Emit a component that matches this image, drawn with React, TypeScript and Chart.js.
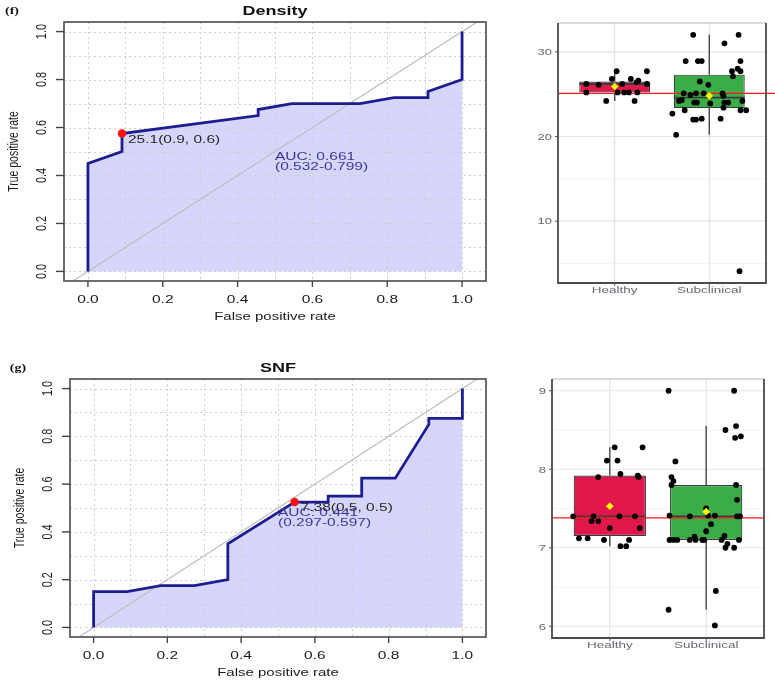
import React, { useEffect, useRef } from 'react';
import { Chart, registerables } from 'chart.js';

Chart.register(...registerables);

const SANS = 'Arial, "Liberation Sans", Helvetica, sans-serif';
const SERIF = '"Liberation Serif", "Times New Roman", serif';
const SQUASH = 0.7;

// ---------- ROC (f) Density ----------
const densityFpr = [0, 0, 0.091, 0.091, 0.455, 0.455, 0.545, 0.727, 0.818, 0.909, 0.909, 1, 1];
const densityTpr = [0, 0.45, 0.5, 0.575, 0.65, 0.675, 0.7, 0.7, 0.725, 0.725, 0.75, 0.8, 1];
const densityBestPoint = [0.091, 0.575];
const densityBestLabel = '25.1(0.9, 0.6)';
const densityAucLines = ['AUC: 0.661', '(0.532-0.799)'];

// ---------- ROC (g) SNF ----------
const snfFpr = [0, 0, 0.091, 0.182, 0.273, 0.364, 0.364, 0.545, 0.636, 0.636, 0.727, 0.727, 0.818, 0.909, 0.909, 1, 1];
const snfTpr = [0, 0.15, 0.15, 0.175, 0.175, 0.2, 0.35, 0.525, 0.525, 0.55, 0.55, 0.625, 0.625, 0.85, 0.875, 0.875, 1];
const snfBestPoint = [0.545, 0.525];
const snfBestLabel = '7.38(0.5, 0.5)';
const snfAucLines = ['AUC: 0.441', '(0.297-0.597)'];

const rocTickValues = [0, 0.2, 0.4, 0.6, 0.8, 1];
const rocTickLabels = ['0.0', '0.2', '0.4', '0.6', '0.8', '1.0'];
const rocGridValues = [0, 0.1, 0.2, 0.3, 0.4, 0.5, 0.6, 0.7, 0.8, 0.9, 1];
const rocXLimits = [-0.064, 1.064];
const rocYLimits = [-0.04, 1.04];
const aucAnchorX = 0.5;
const aucAnchorY = [0.482, 0.44];

// ---------- Box plots ----------
const groups = ['Healthy', 'Subclinical'];
const boxColors = ['#e0174b', '#3aad49'];

const densityQ1 = [25.2, 23.35];
const densityMedian = [26.2, 24.6];
const densityQ3 = [26.5, 27.3];
const densityLow = [24.2, 20.2];
const densityHigh = [27.7, 32.0];
const densityMean = [25.9, 24.8];
const densityCutoff = 25.1;
const densityMajor = [10, 20, 30];
const densityMinor = [5, 15, 25];
const densityYLimits = [2.7, 33.4];
const densityHealthyValues = [26.2, 25.2, 26.1, 24.2, 26.8, 27.7, 25.2, 26.2, 25.2, 25.2, 26.8, 24.2, 25.2, 26.4, 26.6, 27.7, 26.2];
const densityHealthyJitter = [-0.3, -0.3, -0.17, -0.09, -0.03, 0.02, 0.03, 0.08, 0.1, 0.15, 0.17, 0.21, 0.24, 0.23, 0.25, 0.34, 0.34];
const densitySubValues = [32.0, 32.0, 31.0, 28.9, 28.9, 28.9, 28.9, 28.0, 27.7, 27.7, 27.1, 26.5, 26.1, 25.1, 24.9, 25.1, 25.1, 25.1, 24.8, 24.2, 24.3, 24.0, 24.0, 23.9, 24.0, 24.0, 24.2, 23.4, 23.1, 23.1, 23.1, 22.7, 22.0, 22.0, 22.1, 22.1, 20.2, 4.1];
const densitySubJitter = [-0.17, 0.31, 0.16, -0.25, -0.12, -0.08, 0.33, 0.3, 0.33, 0.24, 0.25, -0.1, -0.01, -0.27, -0.2, -0.14, -0.06, 0.14, 0.15, -0.32, -0.29, -0.16, -0.13, 0.01, 0.16, 0.2, 0.35, 0.15, -0.26, 0.33, 0.39, -0.39, -0.17, -0.14, -0.08, 0.12, -0.35, 0.32];

const snfQ1 = [7.15, 7.1];
const snfMedian = [7.4, 7.4];
const snfQ3 = [7.92, 7.8];
const snfLow = [7.02, 6.21];
const snfHigh = [8.28, 8.55];
const snfMean = [7.53, 7.46];
const snfCutoff = 7.38;
const snfMajor = [6, 7, 8, 9];
const snfMinor = [6.5, 7.5, 8.5];
const snfYLimits = [5.85, 9.15];
const snfHealthyValues = [7.4, 7.12, 7.12, 7.34, 7.4, 7.9, 7.34, 7.1, 8.11, 7.25, 8.28, 8.11, 7.94, 7.4, 7.02, 7.02, 7.1, 7.4, 7.92, 7.9, 7.25, 8.28];
const snfHealthyJitter = [-0.38, -0.32, -0.23, -0.19, -0.17, -0.12, -0.12, -0.06, -0.03, 0.0, 0.05, 0.08, 0.11, 0.1, 0.11, 0.17, 0.2, 0.26, 0.29, 0.3, 0.31, 0.34];
const snfSubValues = [9.0, 9.0, 8.55, 8.5, 8.4, 8.42, 8.1, 7.9, 7.85, 7.8, 7.8, 7.61, 7.41, 7.4, 7.5, 7.41, 7.41, 7.4, 7.4, 7.3, 7.21, 7.14, 7.15, 7.1, 7.1, 7.1, 7.1, 7.1, 7.1, 7.1, 7.1, 7.1, 7.05, 7.0, 7.0, 6.45, 6.21, 6.01];
const snfSubJitter = [-0.39, 0.29, 0.31, 0.2, 0.3, 0.36, -0.32, -0.36, -0.34, -0.36, 0.31, 0.32, -0.38, -0.17, 0.0, 0.02, 0.09, 0.35, 0.32, 0.05, 0.0, -0.12, 0.19, -0.38, -0.34, -0.3, -0.17, -0.11, -0.04, -0.02, 0.16, 0.34, 0.22, 0.2, 0.29, 0.1, -0.39, 0.09];

const boxXLimits = [0.4, 2.6];

// ---------- helpers ----------
function drawText(ctx: CanvasRenderingContext2D, text: string, x: number, y: number, size: number, color: string, opts: { align?: CanvasTextAlign; vertical?: boolean; bold?: boolean; family?: string } = {}) {
  ctx.save();
  ctx.translate(x, y);
  if (opts.vertical) {
    ctx.rotate(-Math.PI / 2);
    ctx.scale(SQUASH, 1);
  } else {
    ctx.scale(1, SQUASH);
  }
  ctx.font = `${opts.bold ? 'bold ' : ''}${size}px ${opts.family || SANS}`;
  ctx.fillStyle = color;
  ctx.textAlign = opts.align || 'center';
  ctx.textBaseline = 'alphabetic';
  ctx.fillText(text, 0, 0.36 * size);
  ctx.restore();
}

function line(ctx: CanvasRenderingContext2D, x1: number, y1: number, x2: number, y2: number) {
  ctx.beginPath();
  ctx.moveTo(x1, y1);
  ctx.lineTo(x2, y2);
  ctx.stroke();
}

function rocDecor(title: string, tag: string, best: number[], bestLabel: string, aucLines: string[]) {
  return {
    id: 'rocDecor',
    beforeDatasetsDraw(chart: any) {
      const { ctx, chartArea: a, scales } = chart;
      const x = scales.x, y = scales.y;
      ctx.save();
      ctx.strokeStyle = '#cfcfcf';
      ctx.lineWidth = 1;
      ctx.setLineDash([2, 3]);
      for (const v of rocGridValues) {
        const px = Math.round(x.getPixelForValue(v)) + 0.5;
        line(ctx, px, a.top, px, a.bottom);
        const py = Math.round(y.getPixelForValue(v)) + 0.5;
        line(ctx, a.left, py, a.right, py);
      }
      ctx.restore();
    },
    afterDatasetsDraw(chart: any) {
      const { ctx, chartArea: a, scales } = chart;
      const x = scales.x, y = scales.y;
      ctx.save();
      ctx.strokeStyle = '#555';
      ctx.lineWidth = 1.7;
      ctx.strokeRect(a.left, a.top, a.right - a.left, a.bottom - a.top);
      ctx.strokeStyle = '#444';
      ctx.lineWidth = 1.4;
      rocTickValues.forEach((v, i) => {
        const px = x.getPixelForValue(v);
        line(ctx, px, a.bottom, px, a.bottom + 6);
        drawText(ctx, rocTickLabels[i], px, a.bottom + 18, 15.5, '#1a1a1a');
        const py = y.getPixelForValue(v);
        line(ctx, a.left, py, a.left - 8, py);
        drawText(ctx, rocTickLabels[i], a.left - 24, py, 15.5, '#1a1a1a', { vertical: true });
      });
      const cx = (a.left + a.right) / 2;
      const cy = (a.top + a.bottom) / 2;
      drawText(ctx, 'False positive rate', cx, a.bottom + 35, 15, '#1a1a1a');
      drawText(ctx, 'True positive rate', a.left - 51, cy, 15, '#1a1a1a', { vertical: true });
      drawText(ctx, title, cx, a.top - 11.5, 18, '#111', { bold: true });
      drawText(ctx, tag, a.left - 52, a.top - 12, 14, '#111', { bold: true, family: SERIF });
      const bx = x.getPixelForValue(best[0]);
      const by = y.getPixelForValue(best[1]);
      drawText(ctx, bestLabel, bx + 6, by + 5.5, 15.5, '#2a2a2a', { align: 'left' });
      const ax = x.getPixelForValue(aucAnchorX);
      aucLines.forEach((t, i) => {
        drawText(ctx, t, ax, y.getPixelForValue(aucAnchorY[i]), 15.5, '#3a3a9c', { align: 'left' });
      });
      ctx.restore();
    },
  };
}

function rocConfig(fpr: number[], tpr: number[], best: number[], bestLabel: string, aucLines: string[], title: string, tag: string, padding: any) {
  const curve = fpr.map((v, i) => ({ x: v, y: tpr[i] }));
  return {
    type: 'line',
    data: {
      datasets: [
        {
          data: [{ x: rocXLimits[0], y: rocXLimits[0] }, { x: rocXLimits[1], y: rocXLimits[1] }],
          borderColor: '#bdbdbd', borderWidth: 1.2, pointRadius: 0, fill: false, order: 3,
        },
        {
          data: curve, borderColor: '#1d1d92', borderWidth: 2.8, pointRadius: 0,
          fill: 'origin', backgroundColor: 'rgba(70, 70, 240, 0.22)', order: 2, tension: 0,
        },
        {
          data: [{ x: best[0], y: best[1] }], showLine: false, pointRadius: 4.2,
          pointBackgroundColor: '#ff1010', pointBorderWidth: 0, order: 1,
        },
      ],
    },
    options: {
      animation: false, responsive: false, events: [],
      layout: { padding },
      scales: {
        x: { type: 'linear', min: rocXLimits[0], max: rocXLimits[1], display: false },
        y: { type: 'linear', min: rocYLimits[0], max: rocYLimits[1], display: false },
      },
      plugins: { legend: { display: false }, tooltip: { enabled: false }, filler: { drawTime: 'beforeDatasetsDraw' } },
    },
    plugins: [rocDecor(title, tag, best, bestLabel, aucLines)],
  };
}

function boxDecor(stats: { median: number[]; low: number[]; high: number[]; q1: number[]; q3: number[] }, cutoff: number, major: number[], minor: number[], cutoffOverhang: number) {
  return {
    id: 'boxDecor',
    beforeDatasetsDraw(chart: any) {
      const { ctx, chartArea: a, scales } = chart;
      const y = scales.y, x = scales.x;
      ctx.save();
      ctx.strokeStyle = '#f1f1f1';
      ctx.lineWidth = 0.8;
      minor.forEach((v) => { const py = y.getPixelForValue(v); line(ctx, a.left, py, a.right, py); });
      ctx.strokeStyle = '#e4e4e4';
      ctx.lineWidth = 1.2;
      major.forEach((v) => { const py = y.getPixelForValue(v); line(ctx, a.left, py, a.right, py); });
      groups.forEach((_, i) => { const px = x.getPixelForValue(i + 1); line(ctx, px, a.top, px, a.bottom); });
      ctx.restore();
    },
    afterDatasetDraw(chart: any, args: any) {
      if (args.index !== 0) return;
      const { ctx, chartArea: a, scales } = chart;
      const y = scales.y;
      ctx.save();
      ctx.strokeStyle = '#3d3d3d';
      args.meta.data.forEach((el: any, i: number) => {
        const w = el.width;
        ctx.lineWidth = 1.3;
        line(ctx, el.x, y.getPixelForValue(stats.q3[i]), el.x, y.getPixelForValue(stats.high[i]));
        line(ctx, el.x, y.getPixelForValue(stats.q1[i]), el.x, y.getPixelForValue(stats.low[i]));
        ctx.lineWidth = 1.8;
        const my = y.getPixelForValue(stats.median[i]);
        line(ctx, el.x - w / 2, my, el.x + w / 2, my);
      });
      ctx.strokeStyle = '#ff1a1a';
      ctx.lineWidth = 1.3;
      const cy = y.getPixelForValue(cutoff);
      line(ctx, a.left, cy, a.right + cutoffOverhang, cy);
      ctx.restore();
    },
    afterDatasetsDraw(chart: any) {
      const { ctx, chartArea: a, scales } = chart;
      const y = scales.y, x = scales.x;
      ctx.save();
      ctx.strokeStyle = '#b5b5b5';
      ctx.lineWidth = 1;
      line(ctx, a.left, a.top, a.right, a.top);
      ctx.strokeStyle = '#4a4a4a';
      ctx.lineWidth = 1.8;
      ctx.beginPath();
      ctx.moveTo(a.left, a.top);
      ctx.lineTo(a.left, a.bottom);
      ctx.lineTo(a.right, a.bottom);
      ctx.lineTo(a.right, a.top);
      ctx.stroke();
      ctx.lineWidth = 1;
      ctx.strokeStyle = '#555';
      major.forEach((v) => {
        const py = y.getPixelForValue(v);
        line(ctx, a.left - 3, py, a.left, py);
        drawText(ctx, String(v), a.left - 6, py, 13, '#666', { align: 'right' });
      });
      groups.forEach((g, i) => {
        const px = x.getPixelForValue(i + 1);
        line(ctx, px, a.bottom, px, a.bottom + 3);
        drawText(ctx, g, px, a.bottom + 7, 13.5, '#676772');
      });
      ctx.restore();
    },
  };
}

function boxConfig(q1: number[], median: number[], q3: number[], low: number[], high: number[], mean: number[], cutoff: number, healthy: number[], healthyJitter: number[], sub: number[], subJitter: number[], yLimits: number[], major: number[], minor: number[], padding: any, cutoffOverhang: number) {
  const pts = [
    ...healthy.map((v, i) => ({ x: 1 + healthyJitter[i], y: v })),
    ...sub.map((v, i) => ({ x: 2 + subJitter[i], y: v })),
  ];
  return {
    type: 'bar',
    data: {
      datasets: [
        {
          type: 'bar',
          data: groups.map((_, i) => ({ x: i + 1, y: [q1[i], q3[i]] })),
          backgroundColor: boxColors, borderColor: '#3a3a3a', borderWidth: 1.2, borderSkipped: false,
          barPercentage: 0.75, categoryPercentage: 1, order: 5,
        },
        {
          type: 'scatter', data: pts, pointRadius: 2.9, pointBackgroundColor: '#000',
          pointBorderWidth: 0, order: 2,
        },
        {
          type: 'scatter', data: groups.map((_, i) => ({ x: i + 1, y: mean[i] })), pointStyle: 'rectRot',
          pointRadius: 3.8, pointBackgroundColor: '#ffff00', pointBorderWidth: 0, order: 1,
        },
      ],
    },
    options: {
      animation: false, responsive: false, events: [],
      layout: { padding },
      scales: {
        x: {
          type: 'linear', min: boxXLimits[0], max: boxXLimits[1], display: false, offset: false,
          afterBuildTicks: (s: any) => { s.ticks = groups.map((_, i) => ({ value: i + 1 })); },
        },
        y: { type: 'linear', min: yLimits[0], max: yLimits[1], display: false },
      },
      plugins: { legend: { display: false }, tooltip: { enabled: false } },
    },
    plugins: [boxDecor({ median, low, high, q1, q3 }, cutoff, major, minor, cutoffOverhang)],
  };
}

function ChartCanvas({ left, top, width, height, make }: { left: number; top: number; width: number; height: number; make: () => any }) {
  const ref = useRef<HTMLCanvasElement>(null);
  useEffect(() => {
    const chart = new Chart(ref.current as HTMLCanvasElement, make());
    return () => chart.destroy();
  }, []);
  return (
    <div style={{ position: 'absolute', left, top, width, height }}>
      <canvas ref={ref} width={width} height={height} style={{ width, height, display: 'block' }} />
    </div>
  );
}

export default function App() {
  return (
    <div style={{ position: 'absolute', left: 0, top: 0, width: 775, height: 686, background: '#fff', overflow: 'hidden' }}>
      <ChartCanvas left={0} top={0} width={500} height={330}
        make={() => rocConfig(densityFpr, densityTpr, densityBestPoint, densityBestLabel, densityAucLines, 'Density', '(f)', { left: 64, top: 22, right: 14, bottom: 49 })} />
      <ChartCanvas left={0} top={330} width={500} height={356}
        make={() => rocConfig(snfFpr, snfTpr, snfBestPoint, snfBestLabel, snfAucLines, 'SNF', '(g)', { left: 70, top: 49, right: 14, bottom: 49 })} />
      <ChartCanvas left={510} top={0} width={265} height={330}
        make={() => boxConfig(densityQ1, densityMedian, densityQ3, densityLow, densityHigh, densityMean, densityCutoff,
          densityHealthyValues, densityHealthyJitter, densitySubValues, densitySubJitter, densityYLimits, densityMajor, densityMinor,
          { left: 48, top: 23, right: 9, bottom: 47 }, 9)} />
      <ChartCanvas left={510} top={330} width={265} height={356}
        make={() => boxConfig(snfQ1, snfMedian, snfQ3, snfLow, snfHigh, snfMean, snfCutoff,
          snfHealthyValues, snfHealthyJitter, snfSubValues, snfSubJitter, snfYLimits, snfMajor, snfMinor,
          { left: 42, top: 49, right: 11, bottom: 48 }, 0)} />
    </div>
  );
}
